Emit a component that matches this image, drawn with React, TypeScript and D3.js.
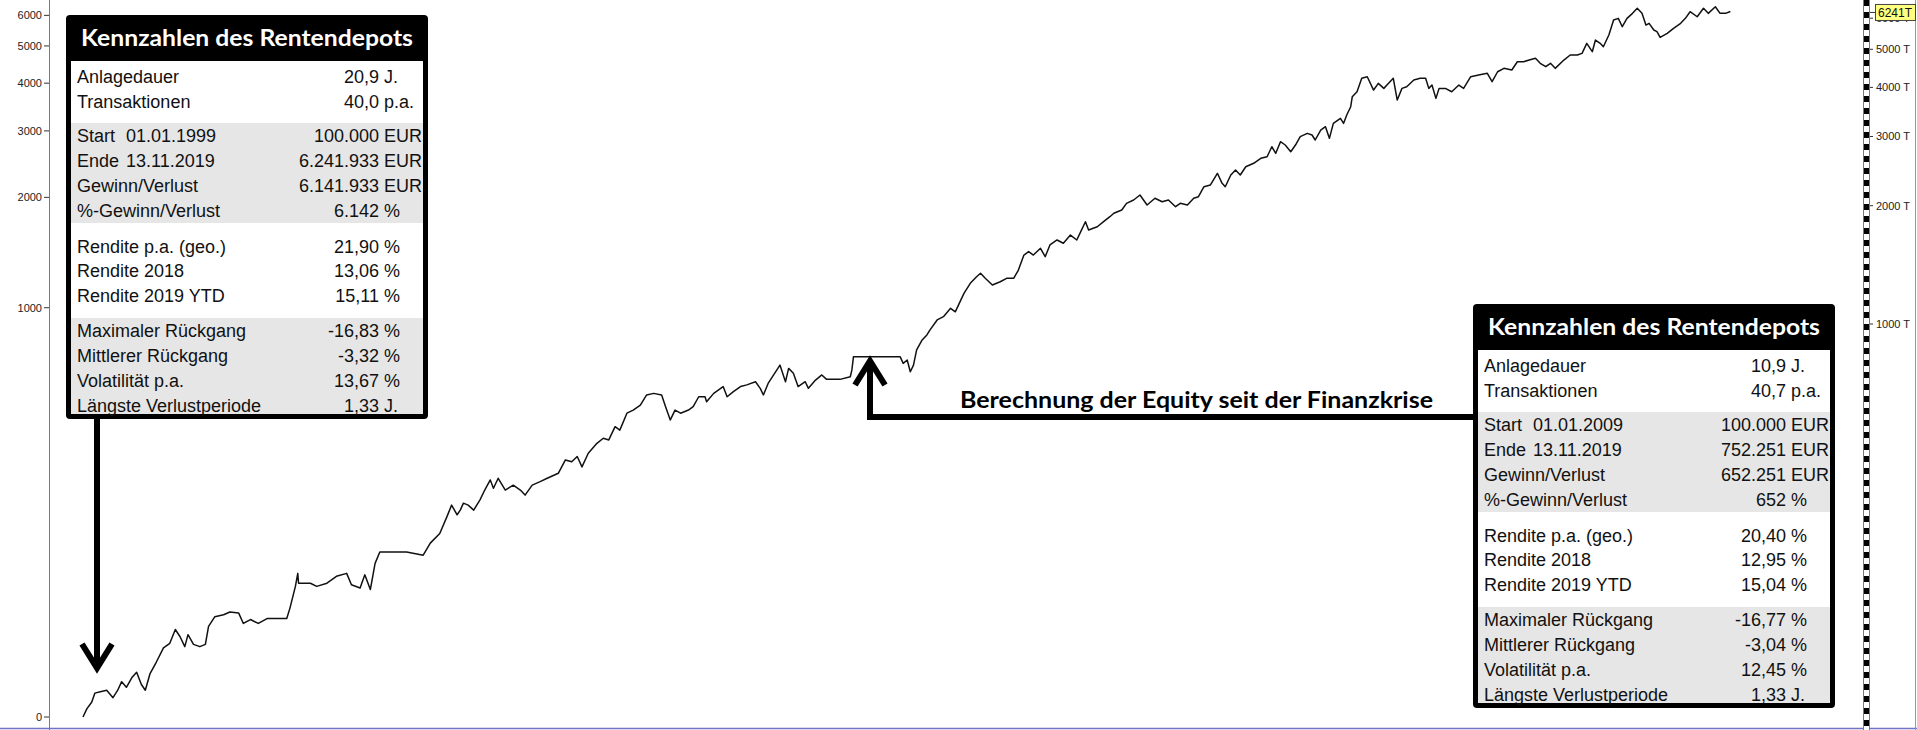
import React, { useEffect } from 'react';
import * as d3 from 'd3';

// equity of the depot in T EUR (decimal year, value)
const equityCurve: [number, number][] = [
  [1999.00, 100], [1999.05, 105], [1999.11, 109], [1999.15, 115], [1999.22, 116], [1999.30, 117], [1999.38, 112], [1999.44, 117],
  [1999.49, 123], [1999.55, 119], [1999.62, 126], [1999.68, 130], [1999.74, 121], [1999.79, 117], [1999.85, 129], [1999.93, 138],
  [2000.02, 150], [2000.10, 154], [2000.17, 167], [2000.23, 160], [2000.29, 151], [2000.33, 162], [2000.40, 153], [2000.48, 151],
  [2000.55, 153], [2000.59, 170], [2000.67, 180], [2000.78, 182], [2000.86, 185], [2000.97, 184],
  [2001.03, 173], [2001.12, 177], [2001.22, 173], [2001.33, 178], [2001.41, 178], [2001.58, 178], [2001.62, 189], [2001.69, 215],
  [2001.72, 232], [2001.73, 219], [2001.88, 219], [2001.96, 215],
  [2002.09, 219], [2002.21, 228], [2002.34, 232], [2002.40, 217], [2002.51, 213], [2002.57, 230], [2002.64, 211], [2002.70, 246], [2002.76, 263],
  [2003.10, 263], [2003.31, 258], [2003.40, 277], [2003.52, 293], [2003.61, 323], [2003.67, 346], [2003.74, 327], [2003.78, 336],
  [2003.82, 350], [2003.88, 346], [2003.95, 336],
  [2004.03, 357], [2004.09, 378], [2004.16, 401], [2004.20, 382], [2004.26, 405], [2004.35, 378], [2004.45, 389], [2004.54, 378],
  [2004.60, 367], [2004.69, 389], [2004.79, 397], [2004.88, 405],
  [2005.02, 417], [2005.11, 451], [2005.19, 446], [2005.26, 460], [2005.32, 433], [2005.40, 469], [2005.51, 497], [2005.59, 512],
  [2005.66, 507], [2005.74, 548], [2005.80, 537], [2005.89, 593], [2005.97, 604],
  [2006.06, 622], [2006.14, 660], [2006.23, 666], [2006.33, 660], [2006.38, 616], [2006.44, 570], [2006.50, 604], [2006.57, 593],
  [2006.67, 604], [2006.73, 616], [2006.80, 653], [2006.88, 653], [2006.90, 634], [2006.99, 666],
  [2007.11, 693], [2007.16, 653], [2007.24, 673], [2007.33, 693], [2007.41, 700], [2007.52, 713], [2007.58, 686], [2007.62, 660],
  [2007.68, 706], [2007.75, 742], [2007.83, 786], [2007.90, 713], [2007.94, 771],
  [2008.00, 749], [2008.06, 693], [2008.15, 713], [2008.19, 686], [2008.28, 720], [2008.36, 742], [2008.42, 723], [2008.59, 723],
  [2008.72, 734], [2008.74, 764], [2008.76, 826],
  [2009.20, 826], [2009.35, 826], [2009.39, 794], [2009.44, 810], [2009.48, 756], [2009.52, 786], [2009.56, 859], [2009.63, 911],
  [2009.69, 938], [2009.73, 966], [2009.82, 1024], [2009.90, 1044], [2009.99, 1096],
  [2010.05, 1074], [2010.16, 1197], [2010.24, 1269], [2010.32, 1319], [2010.37, 1346], [2010.43, 1307], [2010.52, 1257], [2010.62, 1281],
  [2010.70, 1307], [2010.79, 1307], [2010.85, 1372], [2010.92, 1498], [2010.98, 1528],
  [2011.04, 1498], [2011.13, 1558], [2011.19, 1484], [2011.25, 1589], [2011.34, 1636], [2011.42, 1605], [2011.51, 1684], [2011.59, 1636],
  [2011.63, 1701], [2011.70, 1821], [2011.74, 1734], [2011.85, 1768], [2011.93, 1821],
  [2012.01, 1875], [2012.06, 1913], [2012.16, 1950], [2012.22, 2028], [2012.31, 2068], [2012.39, 2129], [2012.48, 2008], [2012.58, 2089],
  [2012.67, 2047], [2012.75, 2068], [2012.84, 1988], [2012.90, 2028], [2012.99, 2008],
  [2013.07, 2089], [2013.13, 2108], [2013.20, 2235], [2013.28, 2257], [2013.37, 2418], [2013.43, 2280], [2013.47, 2235], [2013.54, 2394],
  [2013.60, 2465], [2013.66, 2394], [2013.73, 2513], [2013.83, 2564], [2013.92, 2640],
  [2014.00, 2665], [2014.06, 2825], [2014.11, 2718], [2014.17, 2910], [2014.23, 2854], [2014.30, 2744], [2014.36, 2854], [2014.42, 2997],
  [2014.51, 3056], [2014.57, 3026], [2014.61, 2939], [2014.68, 3116], [2014.74, 3177], [2014.79, 2968], [2014.84, 3240], [2014.93, 3337],
  [2014.97, 3240],
  [2015.01, 3402], [2015.06, 3572], [2015.08, 3787], [2015.14, 3899], [2015.20, 4218], [2015.27, 4258], [2015.35, 3938], [2015.41, 4096],
  [2015.48, 3977], [2015.54, 4096], [2015.60, 4218], [2015.65, 3714], [2015.71, 3977], [2015.77, 4015], [2015.86, 4176], [2015.94, 4218],
  [2016.01, 4218], [2016.05, 3977], [2016.09, 4055], [2016.14, 3751], [2016.18, 3977], [2016.26, 3977], [2016.34, 3899], [2016.43, 4055],
  [2016.49, 3977], [2016.58, 4258], [2016.68, 4300], [2016.79, 4343], [2016.85, 4135], [2016.92, 4384],
  [2017.00, 4472], [2017.10, 4428], [2017.17, 4648], [2017.25, 4648], [2017.32, 4695], [2017.40, 4742], [2017.46, 4605], [2017.53, 4515],
  [2017.59, 4605], [2017.65, 4472], [2017.76, 4695], [2017.84, 4835], [2017.93, 4835], [2017.99, 4883],
  [2018.05, 5178], [2018.12, 4930], [2018.16, 5279], [2018.22, 5178], [2018.26, 5077], [2018.33, 5436], [2018.39, 5935], [2018.45, 5994],
  [2018.50, 5708], [2018.56, 5994], [2018.63, 6173], [2018.69, 6357], [2018.75, 6173], [2018.80, 5763], [2018.84, 5821], [2018.90, 5598],
  [2018.94, 5543], [2018.98, 5363],
  [2019.07, 5490], [2019.15, 5654], [2019.24, 5821], [2019.30, 5994], [2019.36, 6232], [2019.45, 6051], [2019.53, 6357], [2019.59, 6173],
  [2019.68, 6417], [2019.74, 6173], [2019.81, 6173], [2019.87, 6241],
];

const percentTicks = [0, 1000, 2000, 3000, 4000, 5000, 6000];
const equityTicks = [1000, 2000, 3000, 4000, 5000, 6000];
const lastEquity = 6241;

const rowLabels = [
  'Anlagedauer', 'Transaktionen',
  'Start', 'Ende', 'Gewinn/Verlust', '%-Gewinn/Verlust',
  'Rendite p.a. (geo.)', 'Rendite 2018', 'Rendite 2019 YTD',
  'Maximaler Rückgang', 'Mittlerer Rückgang', 'Volatilität p.a.', 'Längste Verlustperiode',
];
const rowUnits = ['J.', 'p.a.', 'EUR', 'EUR', 'EUR', '%', '%', '%', '%', '%', '%', '%', 'J.'];

const depotSince1999 = ['20,9', '40,0', '100.000', '6.241.933', '6.141.933', '6.142', '21,90', '13,06', '15,11', '-16,83', '-3,32', '13,67', '1,33'];
const datesSince1999 = ['01.01.1999', '13.11.2019'];
const depotSince2009 = ['10,9', '40,7', '100.000', '752.251', '652.251', '652', '20,40', '12,95', '15,04', '-16,77', '-3,04', '12,45', '1,33'];
const datesSince2009 = ['01.01.2009', '13.11.2019'];

const TITLE = 'Kennzahlen des Rentendepots';
const NOTE = 'Berechnung der Equity seit der Finanzkrise';

const AXIS_BLUE = '#7272c4';
const BODY_FONT = '"Liberation Sans", Arial, sans-serif';
const HEAD_FONT = 'Lato, "Open Sans", sans-serif';

function yearToDate(y: number) {
  const yr = Math.floor(y);
  const a = Date.UTC(yr, 0, 1);
  const b = Date.UTC(yr + 1, 0, 1);
  return new Date(a + (y - yr) * (b - a));
}

// layout of the stat box, relative to its top-left corner
const BOX_W = 362;
const BOX_H = 404;
const bands = [[46, 108, '#ffffff'], [108, 208, '#e6e6e6'], [208, 303, '#ffffff'], [303, 399, '#e6e6e6']] as const;
const rowCenters = [61, 86, 120, 145, 170, 195, 231, 255, 280, 315, 340, 365, 390];

function StatBox({ left, top, numbers, dates }: { left: number; top: number; numbers: string[]; dates: string[] }) {
  return (
    <g>
      <rect x={left} y={top} width={BOX_W} height={BOX_H} rx={4} fill="#000" />
      {bands.map(([a, b, c], i) => (
        <rect key={i} x={left + 5} y={top + a} width={BOX_W - 10} height={b - a} fill={c} />
      ))}
      <text x={left + 15} y={top + 31} fontFamily={HEAD_FONT} fontWeight={700} fontSize={22} fill="#fff"
        textLength={332} lengthAdjust="spacingAndGlyphs">{TITLE}</text>
      {rowLabels.map((lab, i) => {
        const by = top + rowCenters[i] + 6.5;
        return (
          <g key={lab} fontFamily={BODY_FONT} fontSize={18} fill="#111">
            <text x={left + 11} y={by}>{lab}</text>
            {(i === 2 || i === 3) && <text x={left + 60} y={by}>{dates[i - 2]}</text>}
            <text x={left + 313} y={by} textAnchor="end">{numbers[i]}</text>
            <text x={left + 318} y={by}>{rowUnits[i]}</text>
          </g>
        );
      })}
    </g>
  );
}

export default function App() {
  useEffect(() => {
    document.body.style.margin = '0';
    document.body.style.overflow = 'hidden';
  }, []);

  const x = d3.scaleUtc()
    .domain([new Date(Date.UTC(1999, 0, 1)), new Date(Date.UTC(2019, 10, 13))])
    .range([83, 1730]);
  const y = d3.scaleLog().domain([100, 1000]).range([717, 324]);

  const line = d3.line<[number, number]>()
    .x(d => x(yearToDate(d[0])))
    .y(d => y(d[1]));

  // left axis shows the gain in percent of the 100 T start capital
  const pctY = (p: number) => y(100 * (1 + p / 100));

  const lastY = y(lastEquity);

  // arrows
  const leftShaftX = 97;
  const leftTip = 668;
  const rightShaftX = 870;
  const rightTip = 361;
  const connectorY = 417;

  return (
    <svg width={1917} height={730} style={{ position: 'absolute', left: 0, top: 0, background: '#fff' }}>
      <rect width={1917} height={730} fill="#fff" />

      {/* left axis */}
      <line x1={49.5} x2={49.5} y1={0} y2={730} stroke={AXIS_BLUE} strokeWidth={1} />
      {percentTicks.map(p => (
        <g key={p}>
          <line x1={44} x2={49} y1={pctY(p)} y2={pctY(p)} stroke="#333" />
          <text x={42} y={pctY(p)} dy="0.35em" textAnchor="end" fontFamily={BODY_FONT} fontSize={11} fill="#222">{p}</text>
        </g>
      ))}

      {/* bottom border */}
      <line x1={0} x2={1917} y1={728.5} y2={728.5} stroke={AXIS_BLUE} strokeWidth={1.5} />

      {/* equity curve */}
      <path d={line(equityCurve) || ''} fill="none" stroke="#111" strokeWidth={1.5} strokeLinejoin="round" />

      {/* right axis */}
      <line x1={1866.5} x2={1866.5} y1={0} y2={730} stroke="#fff" strokeWidth={6} />
      <line x1={1866.5} x2={1866.5} y1={0} y2={730} stroke="#000" strokeWidth={5} strokeDasharray="6 6" />
      <line x1={1863.5} x2={1863.5} y1={0} y2={730} stroke={AXIS_BLUE} strokeWidth={1} />
      <line x1={1869.5} x2={1869.5} y1={0} y2={730} stroke={AXIS_BLUE} strokeWidth={1} />
      <line x1={1915.5} x2={1915.5} y1={0} y2={730} stroke="#999" strokeWidth={1} />
      {equityTicks.map(v => (
        <g key={v}>
          <line x1={1870} x2={1873} y1={y(v)} y2={y(v)} stroke="#333" />
          <text x={1876} y={y(v)} dy="0.35em" fontFamily={BODY_FONT} fontSize={11} fill="#222">{`${v} T`}</text>
        </g>
      ))}
      <line x1={1870} x2={1875} y1={lastY + 1} y2={lastY + 1} stroke="#333" />
      <rect x={1875.5} y={lastY - 7} width={40} height={16} fill="#ffff80" stroke="#444" strokeWidth={1} />
      <text x={1878} y={lastY + 1} dy="0.35em" fontFamily={BODY_FONT} fontSize={12} fill="#111">{`${lastEquity}T`}</text>

      {/* stat boxes */}
      <StatBox left={66} top={15} numbers={depotSince1999} dates={datesSince1999} />
      <StatBox left={1473} top={304} numbers={depotSince2009} dates={datesSince2009} />

      {/* arrow from the left box down to the start */}
      <g fill="none" stroke="#000" strokeWidth={6}>
        <line x1={leftShaftX} x2={leftShaftX} y1={419} y2={leftTip} />
        <polyline points={`${leftShaftX - 15},${leftTip - 24} ${leftShaftX},${leftTip} ${leftShaftX + 15},${leftTip - 24}`} strokeLinejoin="miter" />
        {/* arrow from the right box to the 2009 start */}
        <polyline points={`1473,${connectorY} ${rightShaftX},${connectorY} ${rightShaftX},${rightTip}`} strokeLinejoin="miter" />
        <polyline points={`${rightShaftX - 15},${rightTip + 24} ${rightShaftX},${rightTip} ${rightShaftX + 15},${rightTip + 24}`} strokeLinejoin="miter" />
      </g>
      <text x={960} y={408} fontFamily={HEAD_FONT} fontWeight={700} fontSize={22} fill="#000"
        textLength={473} lengthAdjust="spacingAndGlyphs">{NOTE}</text>
    </svg>
  );
}
